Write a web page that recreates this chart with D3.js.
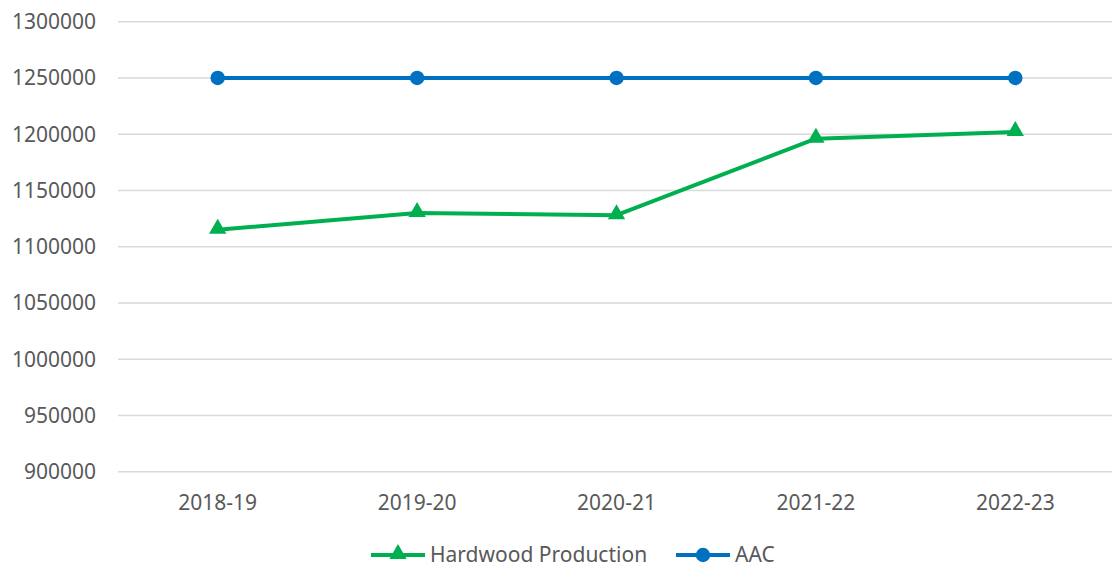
<!DOCTYPE html>
<html lang="en">
<head>
  <meta charset="UTF-8">
  <title>Hardwood Production vs AAC</title>
  <style>
    body { margin: 0; background: #fff; }
    svg { display: block; font-family: "Noto Sans", "Open Sans", sans-serif; }
    .grid line { stroke: #d9d9d9; stroke-width: 1.5px; }
    .tick-label { fill: #595959; font-size: 21px; }
  </style>
</head>
<body>
  <script src="https://d3js.org/d3.v7.min.js"></script>
  <script>
    const years = ["2018-19", "2019-20", "2020-21", "2021-22", "2022-23"];
    const hardwood = [1115000, 1130000, 1128000, 1196000, 1202000];
    const aac = [1250000, 1250000, 1250000, 1250000, 1250000];
    const yTicks = [900000, 950000, 1000000, 1050000, 1100000, 1150000, 1200000, 1250000, 1300000];

    const width = 1112, height = 569;
    const svg = d3.select("body").append("svg").attr("width", width).attr("height", height);

    const x = d3.scaleBand().domain(years).range([118, 1115]);
    const y = d3.scaleLinear().domain([900000, 1300000]).range([471.7, 21.7]);

    // gridlines
    svg.append("g").attr("class", "grid")
      .selectAll("line").data(yTicks).enter().append("line")
      .attr("x1", 118).attr("x2", 1115)
      .attr("y1", d => y(d)).attr("y2", d => y(d));

    // y labels
    svg.append("g").selectAll("text").data(yTicks).enter().append("text")
      .attr("class", "tick-label")
      .attr("x", 96).attr("y", d => y(d))
      .attr("dy", "0.35em").attr("text-anchor", "end")
      .text(d => d);

    // x labels
    svg.append("g").selectAll("text").data(years).enter().append("text")
      .attr("class", "tick-label")
      .attr("x", d => x(d) + x.bandwidth() / 2).attr("y", 503)
      .attr("dy", "0.35em").attr("text-anchor", "middle")
      .text(d => d);

    const cx = (d, i) => x(years[i]) + x.bandwidth() / 2;
    const line = d3.line().x(cx).y(d => y(d));
    const tri = d3.symbol().type(d3.symbolTriangle).size(130);

    const series = [
      {name: "Hardwood Production", values: hardwood, color: "#00b050", marker: "triangle"},
      {name: "AAC", values: aac, color: "#0070c0", marker: "circle"}
    ];

    series.forEach(s => {
      svg.append("path").datum(s.values)
        .attr("d", line).attr("fill", "none")
        .attr("stroke", s.color).attr("stroke-width", 4)
        .attr("stroke-linejoin", "round");
      const g = svg.append("g");
      if (s.marker === "circle") {
        g.selectAll("circle").data(s.values).enter().append("circle")
          .attr("cx", cx).attr("cy", d => y(d)).attr("r", 7.2)
          .attr("fill", s.color);
      } else {
        g.selectAll("path").data(s.values).enter().append("path")
          .attr("d", tri)
          .attr("transform", (d, i) => `translate(${cx(d, i)},${y(d) - 1})`)
          .attr("fill", s.color);
      }
    });

    // legend
    const legend = [
      {x: 371, textX: 430},
      {x: 676, textX: 735}
    ];
    series.forEach((s, i) => {
      const L = legend[i];
      const g = svg.append("g");
      g.append("line").attr("x1", L.x).attr("x2", L.x + 54)
        .attr("y1", 555).attr("y2", 555)
        .attr("stroke", s.color).attr("stroke-width", 4);
      if (s.marker === "circle") {
        g.append("circle").attr("cx", L.x + 27).attr("cy", 555).attr("r", 7.2).attr("fill", s.color);
      } else {
        g.append("path").attr("d", tri).attr("transform", `translate(${L.x + 27},${554})`).attr("fill", s.color);
      }
      g.append("text").attr("class", "tick-label")
        .attr("x", L.textX).attr("y", 555).attr("dy", "0.35em")
        .text(s.name);
    });
  </script>
</body>
</html>
